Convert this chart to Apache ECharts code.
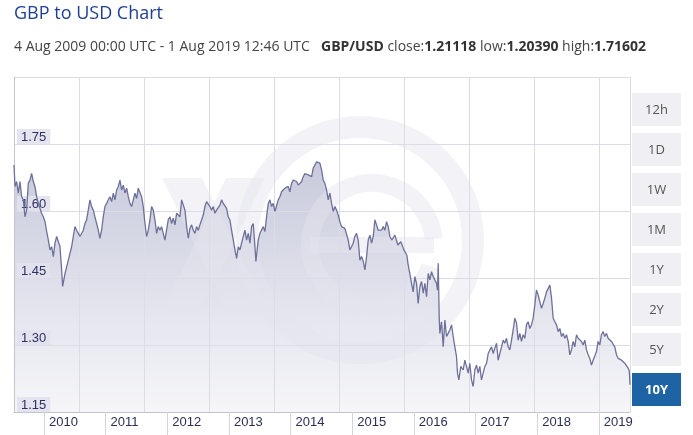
<!DOCTYPE html>
<html><head><meta charset="utf-8">
<script src="https://cdn.jsdelivr.net/npm/echarts@6/dist/echarts.min.js"></script>
<style>html,body{margin:0;padding:0;background:#fff;}#c{width:693px;height:435px;}</style>
</head><body><div id="c"></div>
<script>
// Decimal-year timestamps of the GBP/USD readings
const years = [
2009.589,2009.605,2009.632,2009.659,2009.686,2009.713,2009.740,2009.767,2009.794,2009.821,2009.848,2009.875,2009.902,2009.929,2009.956,2009.983,
2010.010,2010.037,2010.065,2010.092,2010.119,2010.146,2010.173,2010.200,2010.227,2010.254,2010.281,2010.308,2010.335,2010.362,2010.378,2010.416,
2010.443,2010.470,2010.497,2010.524,2010.551,2010.578,2010.605,2010.632,2010.659,2010.686,2010.713,2010.740,2010.767,2010.821,2010.848,2010.875,
2010.902,2010.929,2010.956,2010.983,2011.010,2011.037,2011.064,2011.091,2011.118,2011.146,2011.173,2011.200,2011.227,2011.254,2011.281,2011.308,
2011.335,2011.362,2011.389,2011.416,2011.443,2011.470,2011.497,2011.524,2011.551,2011.578,2011.605,
2011.632,2011.659,2011.686,2011.713,2011.740,2011.767,2011.794,2011.821,2011.848,2011.875,2011.902,2011.929,2011.956,2011.983,
2012.010,2012.037,2012.064,2012.091,2012.119,2012.146,2012.173,2012.200,2012.227,2012.254,2012.281,2012.308,2012.335,2012.362,2012.389,2012.416,
2012.443,2012.470,2012.497,2012.524,2012.551,2012.578,2012.605,2012.632,2012.659,2012.686,2012.713,2012.740,2012.767,2012.794,2012.821,2012.848,
2012.875,2012.902,2012.929,2012.956,2012.983,2013.010,2013.037,2013.064,2013.091,2013.118,2013.146,2013.173,2013.200,2013.227,2013.254,2013.281,
2013.308,2013.335,2013.362,2013.389,2013.416,2013.443,2013.470,2013.497,2013.513,2013.551,2013.578,
2013.632,2013.659,2013.686,2013.713,2013.740,2013.767,2013.794,2013.821,2013.848,2013.875,2013.902,2013.929,2013.956,2013.983,
2014.010,2014.037,2014.064,2014.091,2014.118,2014.146,2014.173,2014.200,2014.227,2014.254,2014.281,2014.308,2014.335,2014.362,2014.389,2014.416,
2014.443,2014.470,2014.497,2014.524,2014.551,2014.578,2014.605,2014.632,2014.659,2014.686,2014.713,2014.740,2014.767,2014.794,2014.821,2014.848,
2014.875,2014.902,2014.929,2014.956,2014.983,2015.010,2015.037,2015.064,2015.091,2015.118,2015.145,2015.172,2015.200,2015.227,2015.254,2015.281,
2015.308,2015.335,2015.362,2015.389,2015.416,2015.443,2015.470,2015.497,2015.524,2015.551,2015.578,2015.605,2015.632,2015.659,2015.686,2015.718,
2015.767,2015.816,2015.864,2015.913,2015.962,
2015.983,2016.010,2016.037,2016.064,2016.091,2016.118,2016.145,2016.173,2016.200,2016.227,2016.254,2016.281,2016.308,2016.335,2016.362,2016.389,
2016.416,2016.443,2016.459,2016.470,2016.486,2016.497,2016.524,2016.551,2016.578,2016.605,2016.632,2016.659,2016.686,2016.713,2016.740,2016.767,
2016.783,2016.805,2016.837,2016.875,2016.902,2016.929,2016.956,2016.983,2017.010,2017.037,2017.064,2017.091,2017.118,2017.145,2017.172,2017.199,
2017.227,2017.254,2017.281,2017.308,2017.335,2017.362,2017.389,2017.416,2017.443,2017.470,2017.497,2017.524,2017.551,2017.578,2017.605,2017.632,
2017.659,2017.686,
2017.713,2017.740,2017.767,2017.794,2017.821,2017.848,2017.875,2017.902,2017.929,2017.956,2017.983,2018.010,2018.037,2018.064,2018.091,2018.118,
2018.145,2018.173,2018.200,2018.227,2018.254,2018.281,2018.308,2018.335,2018.362,2018.389,2018.416,2018.443,2018.470,2018.497,2018.524,2018.551,
2018.578,2018.605,2018.632,2018.659,2018.686,2018.713,2018.740,2018.767,2018.794,2018.821,2018.848,2018.875,2018.902,2018.929,2018.956,2018.983,
2019.010,2019.037,2019.064,2019.091,2019.118,2019.145,2019.172,2019.199,2019.226,2019.253,2019.280,2019.307,2019.334,2019.362,2019.389,2019.416,
2019.443,2019.470,2019.497,2019.524,2019.551,2019.568,2019.576,2019.581
];
// GBP/USD rate at each timestamp
const rates = [
1.703,1.655,1.666,1.640,1.666,1.632,1.625,1.587,1.602,1.662,1.669,1.684,1.666,1.655,1.632,1.617,
1.606,1.595,1.587,1.576,1.554,1.535,1.513,1.520,1.498,1.528,1.543,1.546,1.520,1.468,1.431,1.460,
1.475,1.490,1.505,1.520,1.543,1.565,1.557,1.550,1.543,1.539,1.557,1.572,1.580,1.625,1.610,1.602,
1.587,1.572,1.557,1.539,1.557,1.587,1.610,1.617,1.625,1.632,1.621,1.640,1.625,1.647,1.655,1.669,
1.647,1.658,1.640,1.651,1.632,1.617,1.610,1.625,1.640,1.628,1.651,
1.651,1.632,1.610,1.572,1.543,1.557,1.580,1.610,1.602,1.580,1.550,1.565,1.557,1.565,
1.550,1.535,1.557,1.580,1.587,1.572,1.584,1.569,1.595,1.599,1.587,1.625,1.621,1.602,1.565,1.539,
1.561,1.569,1.557,1.550,1.565,1.557,1.569,1.580,1.591,1.610,1.621,1.617,1.610,1.602,1.610,1.595,
1.602,1.606,1.613,1.625,1.617,1.621,1.606,1.587,1.580,1.557,1.535,1.513,1.494,1.520,1.513,1.528,
1.543,1.557,1.535,1.550,1.528,1.565,1.572,1.520,1.487,1.535,1.550,
1.565,1.554,1.587,1.617,1.625,1.610,1.617,1.599,1.595,1.625,1.632,1.643,1.640,1.651,
1.647,1.655,1.643,1.662,1.669,1.673,1.666,1.658,1.655,1.666,1.677,1.684,1.688,1.681,1.684,1.677,
1.696,1.703,1.710,1.714,1.707,1.692,1.669,1.662,1.647,1.625,1.640,1.617,1.599,1.610,1.602,1.591,
1.576,1.565,1.569,1.561,1.557,1.535,1.513,1.520,1.528,1.543,1.550,1.535,1.490,1.498,1.487,1.468,
1.498,1.535,1.546,1.528,1.543,1.580,1.569,1.557,1.561,1.557,1.565,1.557,1.576,1.565,1.543,1.535,
1.546,1.524,1.531,1.513,1.501,
1.479,1.460,1.438,1.419,1.453,1.438,1.393,1.431,1.442,1.416,1.438,1.408,1.460,1.446,1.464,1.453,
1.457,1.438,1.423,1.483,1.363,1.326,1.352,1.296,1.356,1.319,1.326,1.334,1.345,1.319,1.296,1.274,
1.237,1.222,1.252,1.244,1.266,1.252,1.237,1.259,1.222,1.207,1.244,1.255,1.237,1.252,1.222,1.237,
1.252,1.259,1.281,1.289,1.296,1.281,1.293,1.304,1.266,1.281,1.296,1.311,1.304,1.315,1.296,1.289,
1.311,1.334,
1.360,1.349,1.311,1.326,1.308,1.323,1.315,1.345,1.352,1.337,1.345,1.360,1.390,1.423,1.412,1.397,
1.382,1.393,1.405,1.419,1.416,1.434,1.405,1.360,1.352,1.345,1.330,1.337,1.319,1.326,1.315,1.323,
1.308,1.278,1.289,1.308,1.296,1.323,1.315,1.319,1.308,1.300,1.311,1.289,1.278,1.270,1.255,1.266,
1.263,1.285,1.308,1.300,1.323,1.330,1.319,1.326,1.315,1.319,1.308,1.311,1.296,1.278,1.270,1.274,
1.266,1.270,1.259,1.255,1.248,1.243,1.225,1.211
];
const yearLabels = [2010,2011,2012,2013,2014,2015,2016,2017,2018,2019];
const rangeButtons = ['12h','1D','1W','1M','1Y','2Y','5Y','10Y'];
const activeRange = '10Y';
const titleText = 'GBP to USD Chart';
const periodText = '4 Aug 2009 00:00 UTC - 1 Aug 2019 12:46 UTC';
const pairText = 'GBP/USD';
const statClose = '1.21118', statLow = '1.20390', statHigh = '1.71602';
const xStart = 2009.589, xEnd = 2019.581;
const yMin = 1.15, yMax = 1.90, yStep = 0.15;

const pts = years.map((t, i) => [t, rates[i]]);
const yearTickPos = yearLabels.map(y => y + 0.075);

const chart = echarts.init(document.getElementById('c'), null, {renderer: 'canvas'});

const wmColor = 'rgba(228,229,238,0.45)';
const graphics = [
  {type: 'text', x: 14, y: 14, z: 10, style: {text: titleText, font: '18px "Open Sans"', fill: '#1f3f8f', verticalAlign: 'middle'}},
  {type: 'text', x: 14, y: 47, z: 10, style: {text: periodText, font: '14px "Open Sans"', fill: '#444', verticalAlign: 'middle'}},
  {type: 'text', x: 321, y: 47, z: 10, style: {
    text: '{b|' + pairText + '} close:{b|' + statClose + '} low:{b|' + statLow + '} high:{b|' + statHigh + '}',
    font: '14px "Open Sans"', fill: '#444', verticalAlign: 'middle',
    rich: {b: {fontWeight: 'bold', fontFamily: 'Open Sans', fontSize: 14, fill: '#333', color: '#333'}}
  }},
  // watermark (XE logo)
  {type: 'circle', z: 2.5, silent: true, shape: {cx: 360, cy: 240, r: 113}, style: {fill: 'none', stroke: wmColor, lineWidth: 22}},
  {type: 'polygon', z: 2.5, silent: true, shape: {points: [[162,178],[202,178],[268,312],[228,312]]}, style: {fill: wmColor}},
  {type: 'polygon', z: 2.5, silent: true, shape: {points: [[162,312],[200,312],[265,178],[226,178]]}, style: {fill: wmColor}},
  {type: 'arc', z: 2.5, silent: true, shape: {cx: 372, cy: 245, r: 62, startAngle: 0.35, endAngle: 2 * Math.PI - 0.1, clockwise: true}, style: {fill: 'none', stroke: wmColor, lineWidth: 18}},
  {type: 'rect', z: 2.5, silent: true, shape: {x: 310, y: 237, width: 124, height: 16}, style: {fill: wmColor}}
];
rangeButtons.forEach((b, i) => {
  const active = b === activeRange;
  const top = 93 + i * 40;
  graphics.push({
    type: 'rect', z: 20,
    shape: {x: 632, y: top, width: 49, height: 33},
    style: {fill: active ? '#1e63a4' : '#efeff4'}
  });
  graphics.push({
    type: 'text', z: 21, x: 656.5, y: top + 17,
    style: {text: b, font: (active ? 'bold ' : '') + '13px "Open Sans"', fill: active ? '#ffffff' : '#555555',
      align: 'center', verticalAlign: 'middle'}
  });
});

const gridLine = '#dcdce4';
chart.setOption({
  animation: false,
  backgroundColor: '#fff',
  grid: {left: 14, top: 77, right: 63, bottom: 23, containLabel: false},
  xAxis: [{
    type: 'value', min: xStart, max: xEnd, z: 3,
    axisLine: {show: true, lineStyle: {color: '#c4c4ce', width: 1}},
    axisTick: {show: true, customValues: yearTickPos, length: 23, lineStyle: {color: '#d4d4dc'}},
    axisLabel: {show: true, customValues: yearTickPos, formatter: v => String(Math.floor(v)),
      align: 'left', padding: [0, 0, 0, 5], margin: 4, color: '#2c2f55', fontSize: 13, fontFamily: 'Liberation Sans'},
    splitLine: {show: false}
  }, {
    type: 'value', min: 0, max: 616 / 65, interval: 1, z: 3, position: 'bottom',
    axisLine: {show: false}, axisTick: {show: false}, axisLabel: {show: false},
    splitLine: {show: true, lineStyle: {color: gridLine, width: 1}}
  }],
  yAxis: {
    type: 'value', min: yMin, max: yMax, interval: yStep, z: 3,
    axisLine: {show: true, lineStyle: {color: '#c4c4ce'}},
    axisTick: {show: false},
    splitLine: {show: true, lineStyle: {color: gridLine, width: 1}},
    axisLabel: {inside: true, margin: 3, verticalAlign: 'bottom', showMaxLabel: false,
      formatter: v => v.toFixed(2), color: '#2e3160', fontSize: 13, fontFamily: 'Liberation Sans',
      backgroundColor: 'rgba(226,226,238,0.9)', padding: [2, 4, 0, 4], lineHeight: 13}
  },
  series: [{
    type: 'line', data: pts, xAxisIndex: 0, showSymbol: false, z: 2, silent: true,
    lineStyle: {width: 0},
    areaStyle: {color: {type: 'linear', x: 0, y: 0, x2: 0, y2: 1,
      colorStops: [{offset: 0, color: '#c8cadc'}, {offset: 1, color: '#f6f6f9'}]}, opacity: 1}
  }, {
    type: 'line', data: pts, xAxisIndex: 0, showSymbol: false, z: 4, silent: true,
    lineStyle: {width: 1.3, color: '#6d7199'}
  }],
  graphic: graphics
});
</script>
</body></html>
